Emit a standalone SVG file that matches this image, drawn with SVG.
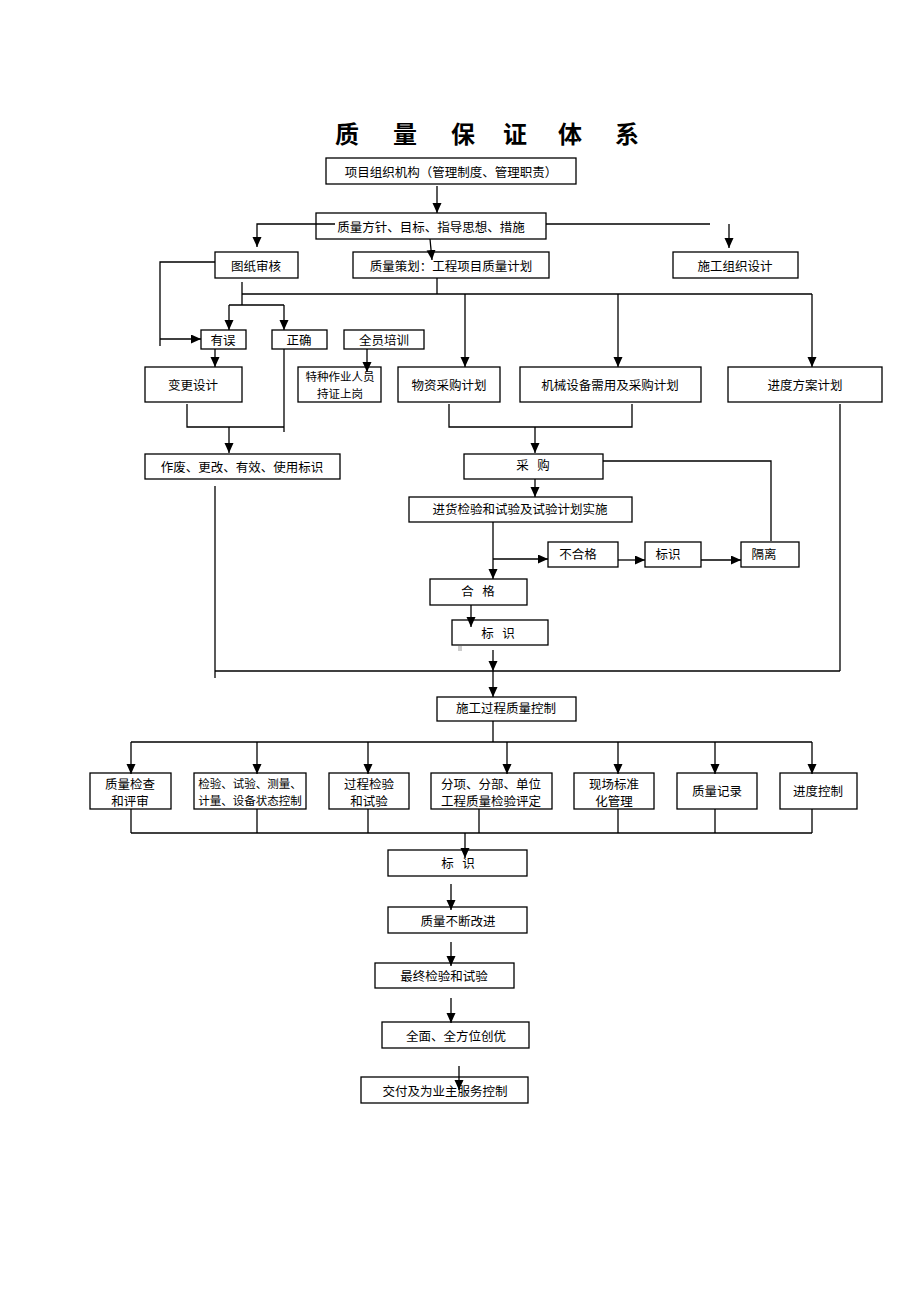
<svg xmlns="http://www.w3.org/2000/svg" width="920" height="1302" viewBox="0 0 920 1302">
<style>
.b{fill:#fff;stroke:#000;stroke-width:1.3}
.t{font-family:"Noto Sans CJK SC","Noto Sans CJK JP",sans-serif;font-size:12.5px;fill:#000;text-anchor:middle;dominant-baseline:central;white-space:pre}
.s{font-size:11.5px}
.title{font-family:"Noto Sans CJK SC",sans-serif;font-size:24px;font-weight:bold;text-anchor:middle;fill:#000}
.c line,.c polyline{stroke:#000;stroke-width:1.3;fill:none}
.a{marker-end:url(#ah)}
</style>
<defs>
<marker id="ah" markerUnits="userSpaceOnUse" markerWidth="10" markerHeight="10" refX="10" refY="4.5" orient="auto">
<path d="M0,0 L10,4.5 L0,9 z" fill="#000"/>
</marker>
</defs>
<rect width="920" height="1302" fill="#fff"/>
<g id="title">
<text class="title" x="347" y="143">质</text>
<text class="title" x="405" y="143">量</text>
<text class="title" x="463" y="143">保</text>
<text class="title" x="515" y="143">证</text>
<text class="title" x="570" y="143">体</text>
<text class="title" x="627" y="143">系</text>
</g>
<g id="n1"><rect class="b" x="326" y="158" width="250" height="26"/><text class="t" x="451" y="171">项目组织机构（管理制度、管理职责）</text></g>
<g id="n2"><rect class="b" x="316" y="213" width="230" height="26"/><text class="t" x="431" y="226">质量方针、目标、指导思想、措施</text></g>
<g id="n3"><rect class="b" x="215" y="252" width="83" height="26"/><text class="t" x="256" y="265">图纸审核</text></g>
<g id="n4"><rect class="b" x="353" y="252" width="196" height="26"/><text class="t" x="451" y="265">质量策划：工程项目质量计划</text></g>
<g id="n5"><rect class="b" x="673" y="252" width="125" height="26"/><text class="t" x="735" y="265">施工组织设计</text></g>
<g id="n6"><rect class="b" x="201" y="330" width="45" height="19"/><text class="t" x="223" y="339">有误</text></g>
<g id="n7"><rect class="b" x="272" y="330" width="55" height="19"/><text class="t" x="299" y="339">正确</text></g>
<g id="n8"><rect class="b" x="344" y="330" width="80" height="19"/><text class="t" x="384" y="339">全员培训</text></g>
<g id="n9"><rect class="b" x="145" y="367" width="97" height="35"/><text class="t" x="193" y="384">变更设计</text></g>
<g id="n10"><rect class="b" x="298" y="367" width="83" height="35"/><text class="t s" x="340" y="376">特种作业人员</text><text class="t s" x="340" y="393">持证上岗</text></g>
<g id="n11"><rect class="b" x="398" y="367" width="102" height="35"/><text class="t" x="449" y="384">物资采购计划</text></g>
<g id="n12"><rect class="b" x="520" y="367" width="181" height="35"/><text class="t" x="610" y="384">机械设备需用及采购计划</text></g>
<g id="n13"><rect class="b" x="728" y="367" width="154" height="35"/><text class="t" x="805" y="384">进度方案计划</text></g>
<g id="n14"><rect class="b" x="145" y="454" width="195" height="25"/><text class="t" x="242" y="466">作废、更改、有效、使用标识</text></g>
<g id="n15"><rect class="b" x="464" y="454" width="139" height="25"/><text class="t" x="533" y="464">采   购</text></g>
<g id="n16"><rect class="b" x="409" y="497" width="223" height="25"/><text class="t" x="520" y="508">进货检验和试验及试验计划实施</text></g>
<g id="n17"><rect class="b" x="548" y="542" width="70" height="25"/><text class="t" x="578" y="553">不合格</text></g>
<g id="n18"><rect class="b" x="645" y="542" width="56" height="25"/><text class="t" x="668" y="553">标识</text></g>
<g id="n19"><rect class="b" x="741" y="542" width="58" height="25"/><text class="t" x="764" y="553">隔离</text></g>
<g id="n20"><rect class="b" x="430" y="579" width="97" height="26"/><text class="t" x="478" y="590">合   格</text></g>
<g id="n21"><rect class="b" x="452" y="620" width="96" height="25"/><text class="t" x="498" y="632">标   识</text></g>
<rect x="458" y="646" width="4" height="5" fill="#ccc"/>
<g id="n22"><rect class="b" x="437" y="697" width="139" height="24"/><text class="t" x="506" y="707">施工过程质量控制</text></g>
<g id="n23"><rect class="b" x="90" y="773" width="81" height="36"/><text class="t" x="130" y="783">质量检查</text><text class="t" x="130" y="800">和评审</text></g>
<g id="n24"><rect class="b" x="194" y="773" width="112" height="36"/><text class="t s" x="250" y="783">检验、试验、测量、</text><text class="t s" x="250" y="800">计量、设备状态控制</text></g>
<g id="n25"><rect class="b" x="329" y="773" width="80" height="36"/><text class="t" x="369" y="783">过程检验</text><text class="t" x="369" y="800">和试验</text></g>
<g id="n26"><rect class="b" x="431" y="773" width="121" height="36"/><text class="t" x="491" y="783">分项、分部、单位</text><text class="t" x="491" y="800">工程质量检验评定</text></g>
<g id="n27"><rect class="b" x="574" y="773" width="80" height="36"/><text class="t" x="614" y="783">现场标准</text><text class="t" x="614" y="800">化管理</text></g>
<g id="n28"><rect class="b" x="677" y="773" width="80" height="36"/><text class="t" x="717" y="790">质量记录</text></g>
<g id="n29"><rect class="b" x="780" y="773" width="77" height="36"/><text class="t" x="818" y="790">进度控制</text></g>
<g id="n30"><rect class="b" x="388" y="850" width="139" height="26"/><text class="t" x="458" y="862">标   识</text></g>
<g id="n31"><rect class="b" x="388" y="907" width="139" height="26"/><text class="t" x="458" y="920">质量不断改进</text></g>
<g id="n32"><rect class="b" x="375" y="963" width="139" height="25"/><text class="t" x="444" y="975">最终检验和试验</text></g>
<g id="n33"><rect class="b" x="382" y="1022" width="147" height="26"/><text class="t" x="456" y="1035">全面、全方位创优</text></g>
<g id="n34"><rect class="b" x="361" y="1077" width="167" height="26"/><text class="t" x="445" y="1090">交付及为业主服务控制</text></g>
<g class="c" id="connectors">
<line class="a" x1="437" y1="186" x2="437" y2="213"/>
<polyline class="a" points="335,224 257,224 257,247"/>
<line x1="546" y1="224" x2="710" y2="224"/>
<line class="a" x1="729" y1="224" x2="729" y2="248"/>
<line class="a" x1="430" y1="239" x2="432" y2="260"/>
<polyline points="215,262 160,262 160,346"/>
<line class="a" x1="160" y1="339" x2="201" y2="339"/>
<line x1="242" y1="282" x2="242" y2="294"/>
<line x1="437" y1="278" x2="437" y2="294"/>
<line x1="242" y1="294" x2="812" y2="294"/>
<line class="a" x1="465" y1="294" x2="465" y2="367"/>
<line class="a" x1="618" y1="294" x2="618" y2="367"/>
<line class="a" x1="812" y1="294" x2="812" y2="367"/>
<line x1="242" y1="294" x2="242" y2="305"/>
<line x1="229" y1="305" x2="284" y2="305"/>
<line class="a" x1="229" y1="305" x2="229" y2="330"/>
<line class="a" x1="284" y1="305" x2="284" y2="330"/>
<line class="a" x1="215" y1="349" x2="215" y2="367"/>
<line class="a" x1="367" y1="349" x2="367" y2="372"/>
<line x1="284" y1="349" x2="284" y2="432"/>
<polyline points="187,404 187,427 284,427"/>
<line class="a" x1="229" y1="427" x2="229" y2="453"/>
<line x1="215" y1="486" x2="215" y2="678"/>
<line x1="215" y1="671" x2="840" y2="671"/>
<line x1="840" y1="404" x2="840" y2="671"/>
<polyline points="449,404 449,427 632,427 632,404"/>
<line class="a" x1="535" y1="427" x2="535" y2="453"/>
<polyline points="603,461 771,461 771,541"/>
<line class="a" x1="535" y1="479" x2="535" y2="497"/>
<line class="a" x1="493" y1="522" x2="493" y2="579"/>
<line class="a" x1="493" y1="559" x2="548" y2="559"/>
<line class="a" x1="618" y1="560" x2="645" y2="560"/>
<line class="a" x1="701" y1="560" x2="741" y2="560"/>
<line class="a" x1="471" y1="605" x2="471" y2="627"/>
<line class="a" x1="493" y1="650" x2="493" y2="671"/>
<line class="a" x1="493" y1="671" x2="493" y2="697"/>
<line x1="493" y1="721" x2="493" y2="742"/>
<line x1="131" y1="742" x2="812" y2="742"/>
<line class="a" x1="131" y1="742" x2="131" y2="774"/>
<line class="a" x1="257" y1="742" x2="257" y2="774"/>
<line class="a" x1="368" y1="742" x2="368" y2="774"/>
<line class="a" x1="507" y1="742" x2="507" y2="774"/>
<line class="a" x1="618" y1="742" x2="618" y2="774"/>
<line class="a" x1="715" y1="742" x2="715" y2="774"/>
<line class="a" x1="812" y1="742" x2="812" y2="774"/>
<line x1="131" y1="809" x2="131" y2="833"/>
<line x1="257" y1="809" x2="257" y2="833"/>
<line x1="368" y1="809" x2="368" y2="833"/>
<line x1="479" y1="809" x2="479" y2="833"/>
<line x1="618" y1="809" x2="618" y2="833"/>
<line x1="715" y1="809" x2="715" y2="833"/>
<line x1="812" y1="809" x2="812" y2="833"/>
<line x1="131" y1="833" x2="812" y2="833"/>
<line class="a" x1="465" y1="833" x2="465" y2="858"/>
<line class="a" x1="451" y1="884" x2="451" y2="910"/>
<line class="a" x1="451" y1="942" x2="451" y2="966"/>
<line class="a" x1="451" y1="998" x2="451" y2="1023"/>
<line class="a" x1="459" y1="1066" x2="459" y2="1090"/>
</g>
</svg>
